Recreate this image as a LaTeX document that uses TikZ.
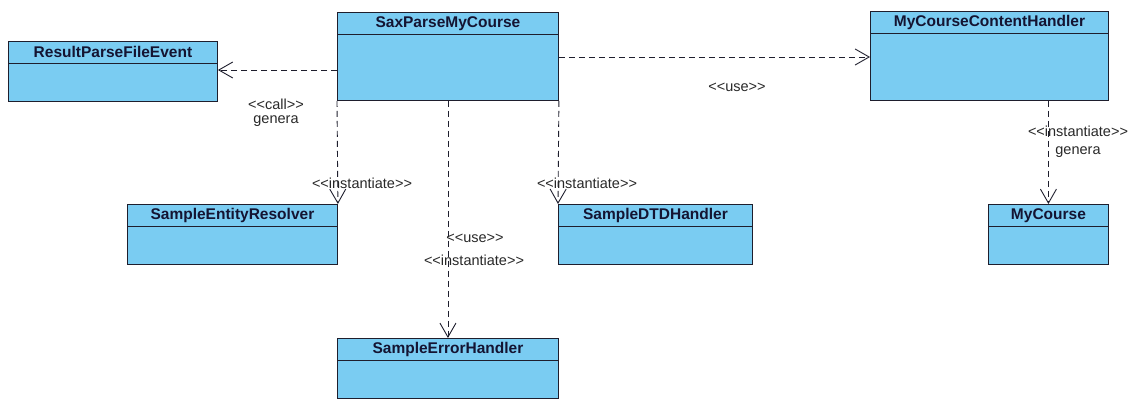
\documentclass[tikz,border=0pt]{standalone}
\usepackage{fontspec}
\setmainfont{Liberation Sans}
\usetikzlibrary{arrows.meta}
\definecolor{clsfill}{RGB}{122,204,242}
\definecolor{linec}{RGB}{30,30,45}
\definecolor{txtc}{RGB}{20,20,50}
\definecolor{lblc}{RGB}{40,40,40}
\tikzset{
  cls/.style={draw=linec, fill=clsfill, line width=0.9pt, anchor=north west, inner sep=0pt},
  hdr/.style={draw=linec, fill=clsfill, line width=0.9pt, anchor=north west, inner sep=0pt,
    minimum height=22pt, text=txtc, font=\bfseries\fontsize{15.5}{15.5}\selectfont},
  dep/.style={draw=linec, dash pattern=on 6pt off 4pt, line width=0.9pt,
    -{Straight Barb[length=14pt,width=16pt]}},
  lbl/.style={text=lblc, inner sep=0pt, font=\fontsize{14.5}{14.5}\selectfont}
}
% class box: name, left, top, width, height, title
\newcommand\umlclass[6]{%
  \node[cls, minimum width=#4, minimum height=#5] (#1) at (#2,#3) {};
  \node[hdr, minimum width=#4] (#1-h) at (#1.north west) {#6};}
% stereotype text with plain angle brackets
\newcommand\stereo[1]{<{}<#1>{}>}
\begin{document}
\begin{tikzpicture}[x=1pt,y=-1pt]
\useasboundingbox (0,0) rectangle (1138,399);
\umlclass{sax}{337}{12}{221}{88}{SaxParseMyCourse}
\umlclass{rpfe}{8}{41}{209}{60}{ResultParseFileEvent}
\umlclass{mch}{870}{11}{238}{89}{MyCourseContentHandler}
\umlclass{ser}{127}{204}{210}{60}{SampleEntityResolver}
\umlclass{dtd}{558}{204}{194}{60}{SampleDTDHandler}
\umlclass{seh}{337}{338}{221}{60}{SampleErrorHandler}
\umlclass{mc}{988}{204}{120}{60}{MyCourse}

% dependencies
\draw[dep] (sax.west |- 0,70) -- (rpfe.east |- 0,70);
\draw[dep] (sax.east |- 0,57) -- (mch.west |- 0,57);
\draw[dep] (sax.south west) -- (ser.north east);
\draw[dep] (sax.south) -- (seh.north);
\draw[dep] (sax.south east) -- (dtd.north west);
\draw[dep] (mch.south -| mc.north) -- (mc.north);

% labels
\node[lbl] (l1) at (276,104) {\stereo{call}};
\node[lbl] (l2) at (276,121) {genera};
\node[lbl] (l3) at (737,87) {\stereo{use}};
\node[lbl] (l4) at (362,183) {\stereo{instantiate}};
\node[lbl] (l5) at (587,183) {\stereo{instantiate}};
\node[lbl] (l6) at (475,238) {\stereo{use}};
\node[lbl] (l7) at (474,260) {\stereo{instantiate}};
\node[lbl] (l8) at (1078,131) {\stereo{instantiate}};
\node[lbl] (l9) at (1078,152) {genera};
\end{tikzpicture}
\end{document}
